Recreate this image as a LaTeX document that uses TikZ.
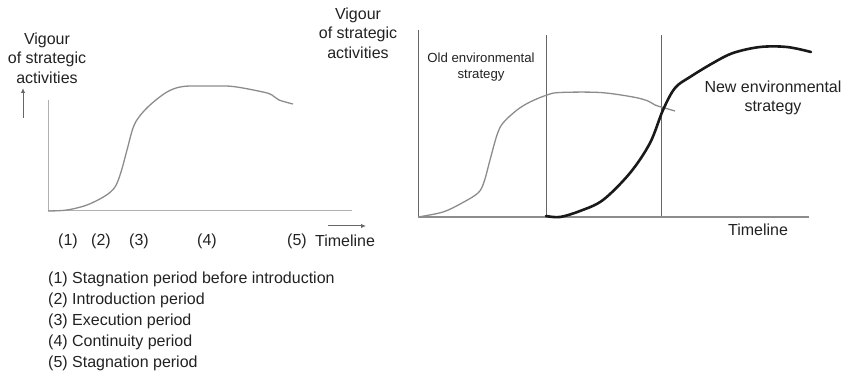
\documentclass[tikz,border=0pt]{standalone}
\usepackage{fontspec}
\setmainfont{Liberation Sans}
\usetikzlibrary{arrows.meta}
\definecolor{axisgray}{HTML}{B0B0B0}
\definecolor{curvegray}{HTML}{8C8C8C}
\definecolor{linegray}{HTML}{666666}
\definecolor{txt}{HTML}{222222}
\begin{document}
\begin{tikzpicture}[x=1pt,y=-1pt,
  lbl/.style={font=\fontsize{16}{19.5}\selectfont, text=txt, inner sep=0pt, align=center},
  smalllbl/.style={font=\fontsize{13.2}{16}\selectfont, text=txt, inner sep=0pt, align=center},
  legend/.style={font=\fontsize{16}{19}\selectfont, text=txt, inner sep=0pt, anchor=west},
  lightaxis/.style={draw=axisgray, line width=1pt},
  rightaxis/.style={draw=curvegray, line width=1.3pt},
  divider/.style={draw=linegray, line width=0.9pt},
  oldcurve/.style={draw=curvegray, line width=1.3pt},
  newcurve/.style={draw=black!90, line width=2.6pt, line cap=round},
  smallarrow/.style={draw=linegray, line width=1pt, -{Latex[length=5pt,width=4.5pt]}}]
\useasboundingbox (0,0) rectangle (846,374);

% ---------- left chart ----------
\coordinate (LO) at (48,211);
\coordinate (LY) at (48,100);
\coordinate (LX) at (352,211);
\draw[lightaxis] (LY) -- (LO) -- (LX);

\coordinate (UA1) at (23,118);
\coordinate (UA2) at (23,88);
\draw[smallarrow] (UA1) -- (UA2);
\coordinate (RA1) at (328,226);
\coordinate (RA2) at (366,226);
\draw[smallarrow] (RA1) -- (RA2);

\node[lbl] (lvig) at (47,58) {Vigour\\of strategic\\activities};

\draw[oldcurve] plot[smooth, tension=0.55] coordinates {
 (48,211) (67,210) (87,205) (105,196) (115,187) (121,172) (127,150) (133,128)
 (139,117) (150,105) (167,92) (183,86.5) (210,86) (233,86.5) (263,92) (272,95)
 (279,100) (293,104)};

\node[lbl] (p1) at (68,241) {(1)};
\node[lbl] (p2) at (101,241) {(2)};
\node[lbl] (p3) at (139,241) {(3)};
\node[lbl] (p4) at (207,241) {(4)};
\node[lbl] (p5) at (297,241) {(5)};
\node[lbl] (tl1) at (345,241) {Timeline};

\node[legend] (g1) at (48,279) {(1) Stagnation period before introduction};
\node[legend] (g2) at (48,300) {(2) Introduction period};
\node[legend] (g3) at (48,321) {(3) Execution period};
\node[legend] (g4) at (48,342) {(4) Continuity period};
\node[legend] (g5) at (48,363) {(5) Stagnation period};

% ---------- right chart ----------
\coordinate (RO) at (418,217);
\coordinate (RY) at (418,30);
\coordinate (RX) at (809,217);
\coordinate (D1t) at (546,35);
\coordinate (D1b) at (546,217);
\coordinate (D2t) at (661,35);
\coordinate (D2b) at (661,217);
\draw[divider] (RY) -- (RO);
\draw[divider] (D1t) -- (D1b);
\draw[divider] (D2t) -- (D2b);
\draw[rightaxis] (RO) -- (RX);

\node[lbl] (rvig) at (358,33) {Vigour\\of strategic\\activities};
\node[smalllbl] (old) at (481,67) {Old environmental\\strategy};
\node[lbl] (new) at (773,98) {New environmental\\strategy};
\node[lbl] (tl2) at (758,230) {Timeline};

\draw[oldcurve] plot[smooth, tension=0.55] coordinates {
 (418,217) (443,212) (462,203) (478,193) (484,182) (490,160) (497,135) (503,123)
 (517,110) (530,102) (547,95) (560,92.5) (600,92.5) (633,97) (648,101) (655,105)
 (663,107.5) (675,111)};

\draw[newcurve] plot[smooth, tension=0.55] coordinates {
 (546,216) (560,217) (580,211) (603,200) (630,173) (650,143) (663,110) (675,88)
 (690,77) (713,63) (733,53) (760,47) (787,47) (811,52)};
\end{tikzpicture}
\end{document}
